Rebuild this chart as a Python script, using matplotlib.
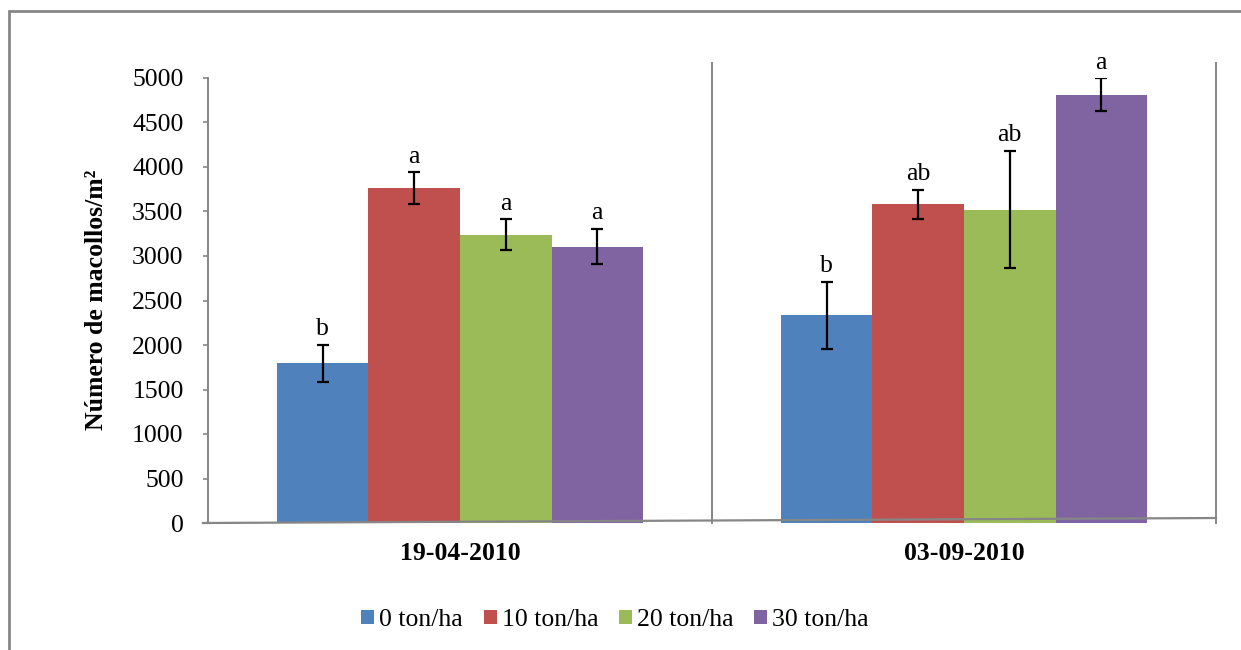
import matplotlib.pyplot as plt
from matplotlib.patches import Rectangle, Patch

fechas = ['19-04-2010', '03-09-2010']
dosis = ['0 ton/ha', '10 ton/ha', '20 ton/ha', '30 ton/ha']
colores = ['#4F81BD', '#C0504D', '#9BBB59', '#8064A2']

# macollos/m2 por dosis, una lista por fecha de muestreo
macollos = [
    [1795, 2333],
    [3762, 3581],
    [3238, 3520],
    [3106, 4812],
]
error = [
    [210, 375],
    [178, 162],
    [173, 658],
    [197, 185],
]
letras = [
    ['b', 'b'],
    ['a', 'ab'],
    ['a', 'ab'],
    ['a', 'a'],
]

plt.rcParams['font.family'] = ['Liberation Serif', 'DejaVu Serif']
plt.rcParams['font.size'] = 18.5

fig = plt.figure(figsize=(12.41, 6.5), dpi=100)
ax = fig.add_axes([208 / 1241, 1 - 523 / 650, (1216 - 208) / 1241, (523 - 78) / 650])

gris = '#868686'
ancho = 0.1817
x = range(len(fechas))
for i, d in enumerate(dosis):
    pos = [xi + (i - 1.5) * ancho for xi in x]
    ax.bar(pos, macollos[i], width=ancho, color=colores[i], label=d, zorder=2)
    ax.errorbar(pos, macollos[i], yerr=error[i], fmt='none', ecolor='black',
                elinewidth=1.6, capsize=4.3, capthick=1.6, zorder=3)
    for p, v, e, t in zip(pos, macollos[i], error[i], letras[i]):
        ax.annotate(t, (p, v + e), xytext=(0, 7), textcoords='offset points',
                    ha='center', va='baseline', fontsize=18.5)

ax.set_xlim(-0.5, 1.5)
ax.set_ylim(0, 5000)
ax.set_yticks(range(0, 5001, 500))
ax.set_xticks(list(x))
ax.set_xticklabels(fechas, fontweight='bold')
ax.tick_params(axis='x', length=0, pad=14)
ax.tick_params(axis='y', length=3.6, width=1.2, color=gris, pad=14)

for s in ['top', 'right', 'bottom']:
    ax.spines[s].set_visible(False)
ax.spines['left'].set_color(gris)
ax.spines['left'].set_linewidth(1.4)

# separadores verticales entre fechas
for xv in [0.5, 1.5]:
    ax.plot([xv, xv], [0, 5169], color=gris, lw=1.4, clip_on=False, zorder=1)

# eje x (ligeramente inclinado)
ax.plot([-0.5 - 5 / 504, 1.5], [0, 56], color=gris, lw=1.6, clip_on=False, zorder=4)

fig.text(97 / 1241, 1 - 300 / 650, 'Número de macollos/m²', rotation=90,
         ha='center', va='center', fontweight='bold', fontsize=18.5)

handles = [Patch(facecolor=c, label=d) for c, d in zip(colores, dosis)]
fig.legend(handles=handles, loc='center', bbox_to_anchor=(615 / 1241, 1 - 620 / 650),
           ncol=4, frameon=False, handlelength=0.5, handleheight=0.5,
           handletextpad=0.2, columnspacing=0.8, fontsize=18.5)

# marco del grafico
fig.patches.append(Rectangle((8.5 / 1241, -0.1), 1.2, 1 - 11 / 650 + 0.1,
                             transform=fig.transFigure, fill=False,
                             edgecolor=gris, lw=2, zorder=0))

fig.savefig('out.png', dpi=100)
